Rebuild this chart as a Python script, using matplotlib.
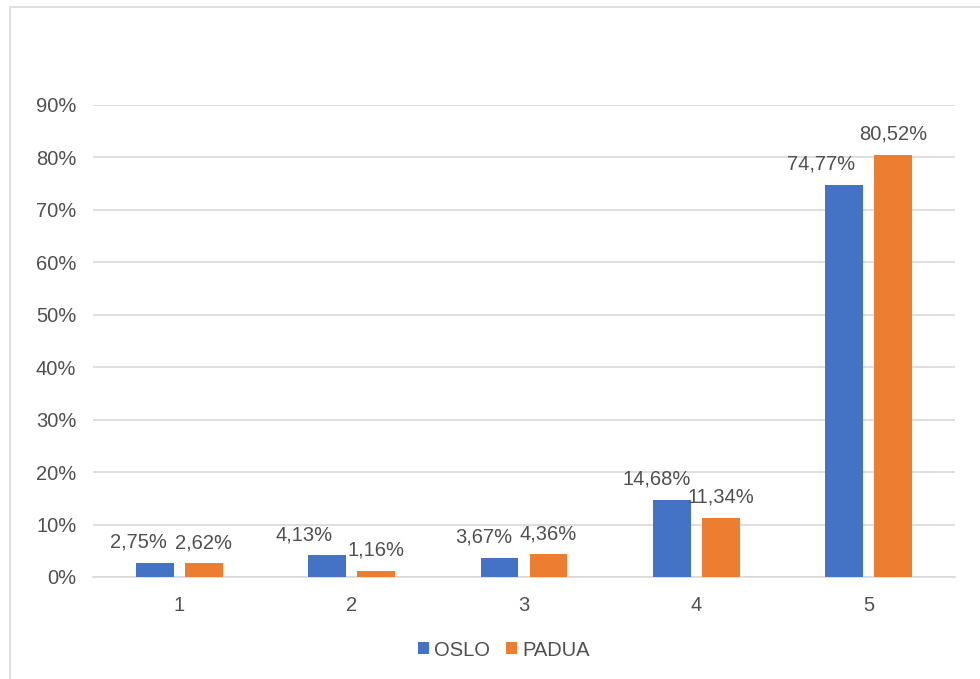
import numpy as np
import matplotlib
matplotlib.use("Agg")
import matplotlib.pyplot as plt
from matplotlib.patches import Rectangle
from matplotlib.ticker import FuncFormatter

plt.rcParams['font.family'] = ['Liberation Sans', 'DejaVu Sans']

# data
categories = ['1', '2', '3', '4', '5']
oslo = [2.75, 4.13, 3.67, 14.68, 74.77]
padua = [2.62, 1.16, 4.36, 11.34, 80.52]
series_names = ['OSLO', 'PADUA']

# label nudges in pixels (Excel moves some labels to avoid overlap)
oslo_dx = [-16, -23, -16, -15, -23]
padua_dx = [0, 0, 0, 0, 0]

blue = '#4472C4'
orange = '#ED7D31'
txt = '#505050'
grid = '#D9D9D9'

fig = plt.figure(figsize=(9.8, 6.79), dpi=100)
# outer chart border
fig.patches.append(Rectangle((10 / 980, -0.05), 1.1, 1 - 7 / 679 + 0.05,
                             transform=fig.transFigure, fill=False,
                             edgecolor='#D9D9D9', linewidth=1.2))

ax = fig.add_axes([93 / 980, 1 - 577 / 679, (955 - 93) / 980, (577 - 105) / 679])

x = np.arange(len(categories))
w = 0.22
off = 0.142
b1 = ax.bar(x - off, oslo, w, color=blue, label=series_names[0], zorder=3)
b2 = ax.bar(x + off, padua, w, color=orange, label=series_names[1], zorder=3)

def fmt(v):
    return ('%.2f' % v).replace('.', ',') + '%'

for xi, v, dx in zip(x - off, oslo, oslo_dx):
    ax.annotate(fmt(v), (xi, v), xytext=(dx * 0.72, 8), textcoords='offset points',
                ha='center', va='bottom', fontsize=14.5, color=txt)
for xi, v, dx in zip(x + off, padua, padua_dx):
    ax.annotate(fmt(v), (xi, v), xytext=(dx * 0.72, 8), textcoords='offset points',
                ha='center', va='bottom', fontsize=14.5, color=txt)

ax.set_xlim(-0.5, 4.5)
ax.set_ylim(0, 90)
ax.set_yticks(np.arange(0, 91, 10))
ax.yaxis.set_major_formatter(FuncFormatter(lambda v, p: '%d%%' % v))
ax.set_xticks(x)
ax.set_xticklabels(categories)
ax.grid(axis='y', color=grid, linewidth=1.2, zorder=0)
ax.tick_params(axis='both', length=0, labelsize=14.5, labelcolor=txt)
ax.tick_params(axis='y', pad=12)
ax.tick_params(axis='x', pad=14)
for s in ['top', 'right', 'left']:
    ax.spines[s].set_visible(False)
ax.spines['bottom'].set_color(grid)
ax.spines['bottom'].set_linewidth(1.2)

leg = fig.legend(handles=[b1, b2], loc='center', bbox_to_anchor=(504 / 980, 1 - 650 / 679),
                 ncol=2, frameon=False, fontsize=14.5, handlelength=0.55, handleheight=0.55,
                 handletextpad=0.25, columnspacing=0.8)
for t in leg.get_texts():
    t.set_color(txt)

fig.savefig('out.png', dpi=100)
